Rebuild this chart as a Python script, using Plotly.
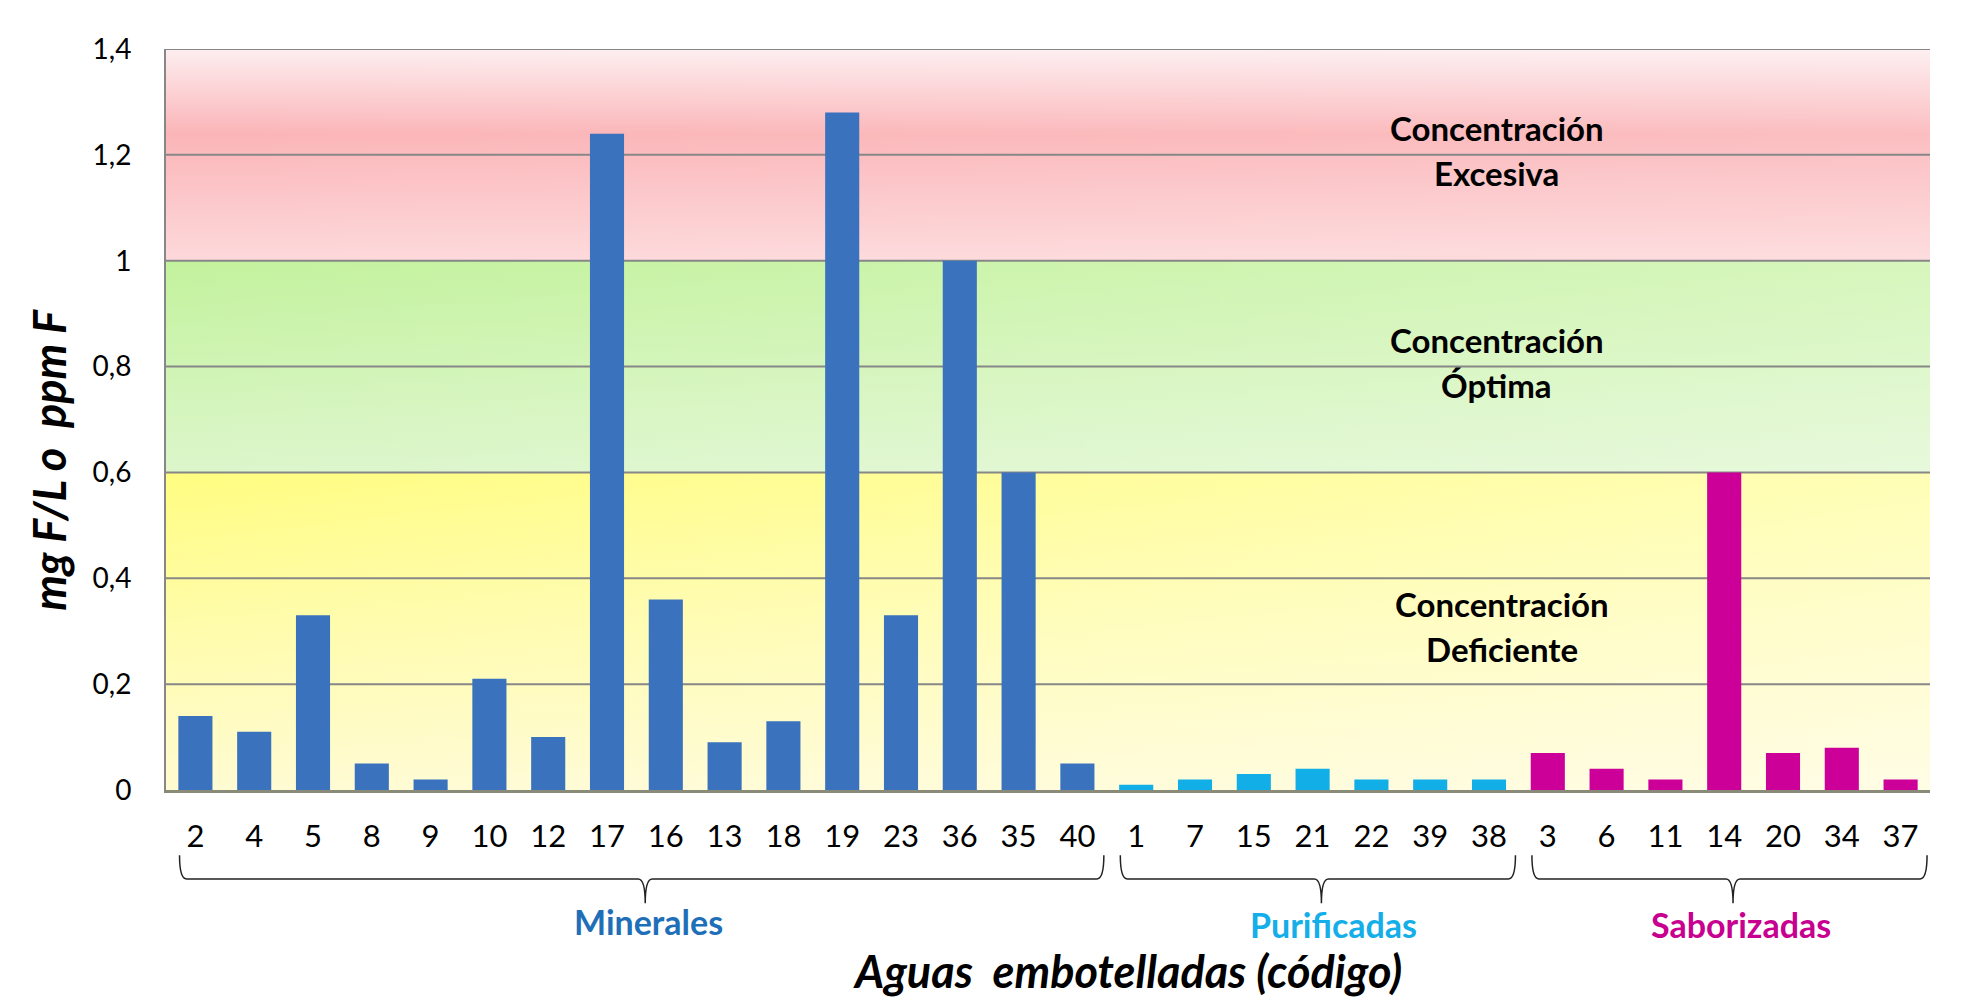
import plotly.graph_objects as go

# códigos de las aguas y concentración de flúor (mg F/L)
mineral_codes = ["2", "4", "5", "8", "9", "10", "12", "17", "16", "13", "18", "19", "23", "36", "35", "40"]
mineral_vals = [0.14, 0.11, 0.33, 0.05, 0.02, 0.21, 0.10, 1.24, 0.36, 0.09, 0.13, 1.28, 0.33, 1.00, 0.60, 0.05]

purif_codes = ["1", "7", "15", "21", "22", "39", "38"]
purif_vals = [0.01, 0.02, 0.03, 0.04, 0.02, 0.02, 0.02]

sabor_codes = ["3", "6", "11", "14", "20", "34", "37"]
sabor_vals = [0.07, 0.04, 0.02, 0.60, 0.07, 0.08, 0.02]

y_ticks = [0, 0.2, 0.4, 0.6, 0.8, 1.0, 1.2, 1.4]
y_labels = ["0", "0,2", "0,4", "0,6", "0,8", "1", "1,2", "1,4"]

# zonas de concentración
band_low = [0.0, 0.6, 1.0]
band_high = [0.6, 1.0, 1.4]
band_text = [("Concentración", "Deficiente"), ("Concentración", "Óptima"), ("Concentración", "Excesiva")]

groups = ["Minerales", "Purificadas", "Saborizadas"]

FONT = "Lato"
BLUE = "#3a72bd"
CYAN = "#12aee8"
MAGENTA = "#cc0099"
GRID = "#878787"

codes = mineral_codes + purif_codes + sabor_codes
n = len(codes)
xs = list(range(n))
x_lo, x_hi = -0.5, n - 0.5

band_scales = [
    [[0, "#fffbd2"], [0.55, "#fffca8"], [1, "#fffd80"]],
    [[0, "#dcf6cb"], [1, "#c3f29d"]],
    [[0, "#fdd9db"], [0.6, "#fbb5b8"], [1, "#fdeef0"]],
]
band_fade = [0.42, 0.32, 0.12]

fig = go.Figure()

# fondo en el subplot base (x, y)
for lo, hi, scale, fade in zip(band_low, band_high, band_scales, band_fade):
    bx = [x_lo, x_hi, x_hi, x_lo, x_lo]
    by = [lo, lo, hi, hi, lo]
    fig.add_trace(go.Scatter(
        x=bx, y=by, mode="none", fill="toself", hoverinfo="skip", showlegend=False,
        fillgradient=dict(type="vertical", colorscale=scale)))
    fig.add_trace(go.Scatter(
        x=bx, y=by, mode="none", fill="toself", hoverinfo="skip", showlegend=False,
        fillgradient=dict(type="horizontal",
                          colorscale=[[0, "rgba(255,255,255,0)"], [1, "rgba(255,255,255,%s)" % fade]])))

# líneas de división
for yv in y_ticks[1:]:
    fig.add_trace(go.Scatter(
        x=[x_lo, x_hi], y=[yv, yv], mode="lines", hoverinfo="skip", showlegend=False,
        line=dict(color=GRID, width=2)))

# barras en el subplot superpuesto (x2, y2) para que queden encima del fondo
start = 0
group_ranges = []
for codes_g, vals_g, color in [(mineral_codes, mineral_vals, BLUE),
                               (purif_codes, purif_vals, CYAN),
                               (sabor_codes, sabor_vals, MAGENTA)]:
    gx = xs[start:start + len(codes_g)]
    fig.add_trace(go.Bar(x=gx, y=vals_g, width=0.58, marker=dict(color=color, line=dict(width=0)),
                         showlegend=False, xaxis="x2", yaxis="y2"))
    group_ranges.append((gx[0], gx[-1]))
    start += len(codes_g)

# llaves debajo de los códigos
y_top, y_mid, y_bot = -0.088, -0.120, -0.153
r = 0.12
label_y = [-0.177, -0.181, -0.181]
label_color = ["#1f6fb8", "#14aee8", "#c8008f"]
label_dx = [0.2, 0.35, 0.28]
for (a, b), name, ly, lc, dx in zip(group_ranges, groups, label_y, label_color, label_dx):
    x0 = a - 0.27
    x1 = min(b + 0.45, x_hi)
    m = (a + b) / 2 + 0.15
    path = (f"M {x0},{y_top} Q {x0},{y_mid} {x0 + r},{y_mid} L {m - r},{y_mid} "
            f"Q {m},{y_mid} {m},{y_bot} Q {m},{y_mid} {m + r},{y_mid} L {x1 - r},{y_mid} "
            f"Q {x1},{y_mid} {x1},{y_top}")
    fig.add_shape(type="path", path=path, xref="x", yref="paper",
                  line=dict(color="#222222", width=1.5))
    fig.add_annotation(x=(a + b) / 2 + dx, y=ly, xref="x", yref="paper", text=name, showarrow=False,
                       xanchor="center", yanchor="middle",
                       font=dict(family=FONT, size=34, color=lc, weight="bold"))

# textos de las zonas
band_text_x = [22.22, 22.13, 22.13]
for lo, hi, (l1, l2), tx in zip(band_low, band_high, band_text, band_text_x):
    mid = (lo + hi) / 2
    for txt, dy in [(l1, 0.051), (l2, -0.034)]:
        fig.add_annotation(x=tx, y=mid + dy, xref="x", yref="y", text=txt, showarrow=False,
                           xanchor="center", yanchor="middle",
                           font=dict(family=FONT, size=33, color="black", weight="bold"))

fig.add_annotation(x=0.545, y=-0.244, xref="paper", yref="paper",
                   text="Aguas  embotelladas (código)", showarrow=False,
                   xanchor="center", yanchor="middle",
                   font=dict(family=FONT, size=45, color="black", weight="bold", style="italic"))
fig.add_annotation(x=-0.066, y=0.445, xref="paper", yref="paper", textangle=-90,
                   text="mg F/L o  ppm F", showarrow=False,
                   xanchor="center", yanchor="middle",
                   font=dict(family=FONT, size=45, color="black", weight="bold", style="italic"))

fig.update_layout(
    width=1970, height=989, autosize=False,
    margin=dict(l=158, r=48, t=41, b=207),
    paper_bgcolor="white", plot_bgcolor="white",
    barmode="overlay",
    font=dict(family=FONT, color="black"),
    xaxis=dict(range=[x_lo, x_hi], tickvals=xs, ticktext=codes, showgrid=False, zeroline=False,
               showline=True, linecolor="#8a8a78", linewidth=2.5, ticks="",
               tickfont=dict(family=FONT, size=31, color="black"), ticklabelstandoff=17,
               layer="above traces"),
    yaxis=dict(range=[0, 1.4], tickvals=y_ticks, ticktext=y_labels, showgrid=False, zeroline=False,
               showline=True, linecolor=GRID, linewidth=2, ticks="",
               tickfont=dict(family=FONT, size=28, color="black"), ticklabelstandoff=27,
               layer="above traces"),
    xaxis2=dict(range=[x_lo, x_hi], overlaying="x", visible=False),
    yaxis2=dict(range=[0, 1.4], overlaying="y", visible=False),
)

fig.write_html("out.html")
